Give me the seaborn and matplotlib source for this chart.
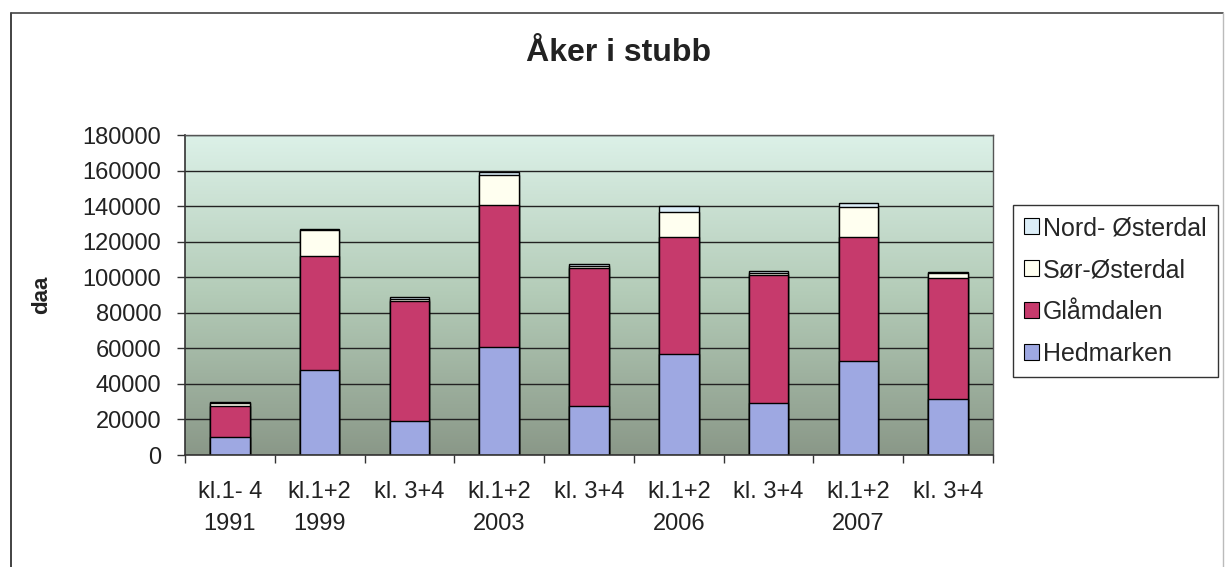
import numpy as np
import pandas as pd
import matplotlib
matplotlib.use("Agg")
import matplotlib.pyplot as plt
from matplotlib.colors import LinearSegmentedColormap
from matplotlib.lines import Line2D
from matplotlib.patches import Patch
import seaborn as sns

# categories (x) and series values (daa)
CATEGORIES = ["kl.1- 4\n1991", "kl.1+2\n1999", "kl. 3+4", "kl.1+2\n2003", "kl. 3+4",
              "kl.1+2\n2006", "kl. 3+4", "kl.1+2\n2007", "kl. 3+4"]
HEDMARKEN = [10000, 48000, 19300, 61000, 27700, 57000, 29000, 53000, 31300]
GLAMDALEN = [17700, 64000, 67300, 79600, 77300, 65400, 72200, 69800, 68100]
SOR_OSTERDAL = [1300, 14500, 1200, 17000, 1300, 14500, 1300, 16500, 2800]
NORD_OSTERDAL = [700, 500, 1200, 1500, 1100, 3100, 1000, 2300, 500]

SERIES = ["Hedmarken", "Glåmdalen", "Sør-Østerdal", "Nord- Østerdal"]
COLORS = {"Hedmarken": "#9ea8e2", "Glåmdalen": "#c63a6c",
          "Sør-Østerdal": "#fffff0", "Nord- Østerdal": "#dceef8"}

sns.set_theme(style="white")
plt.rcParams["font.family"] = ["Liberation Sans", "DejaVu Sans"]

keys = ["c%d" % i for i in range(len(CATEGORIES))]
df = pd.DataFrame({"key": keys, "Hedmarken": HEDMARKEN, "Glåmdalen": GLAMDALEN,
                   "Sør-Østerdal": SOR_OSTERDAL, "Nord- Østerdal": NORD_OSTERDAL})
# cumulative totals for stacking
cum = df[SERIES].cumsum(axis=1)

fig = plt.figure(figsize=(12.26, 5.67), dpi=100)
ax = fig.add_axes([185 / 1226, 1 - 455 / 567, (993 - 185) / 1226, (455 - 135) / 567])

# gradient plot area background
cmap = LinearSegmentedColormap.from_list("bg", ["#8a9888", "#b3cbb7", "#dcf1e8"])
grad = np.linspace(0, 1, 256).reshape(-1, 1)
ax.imshow(grad, extent=[-0.5, len(keys) - 0.5, 0, 180000], aspect="auto",
          origin="lower", cmap=cmap, zorder=0)

# draw from the top layer down so lower layers cover the upper totals
for name in reversed(SERIES):
    sns.barplot(x=df["key"], y=cum[name], order=keys, color=COLORS[name],
                saturation=1, width=0.44, edgecolor="black", linewidth=1.0,
                errorbar=None, ax=ax, zorder=2)

ax.set_xlim(-0.5, len(keys) - 0.5)
ax.set_ylim(0, 180000)
ax.set_yticks(np.arange(0, 180001, 20000))
ax.yaxis.grid(True, color="#222222", linewidth=1.0)
ax.set_axisbelow(True)
ax.grid(axis="x", visible=False)

ax.set_xticks(range(len(keys)))
ax.set_xticklabels(CATEGORIES, fontsize=17, linespacing=1.55, color="#222222")
ax.set_xticks(np.arange(-0.5, len(keys), 1), minor=True)
ax.tick_params(axis="x", which="major", length=0, pad=19)
ax.tick_params(axis="x", which="minor", length=6, width=1, color="#333333", direction="out", bottom=True)
ax.tick_params(axis="y", length=6, width=1, color="#333333", direction="out", left=True,
               pad=11, labelsize=17, labelcolor="#222222")
ax.set_xlabel("")
ax.set_ylabel("")

for side in ["left", "bottom"]:
    ax.spines[side].set_color("#333333")
    ax.spines[side].set_linewidth(1.2)
for side in ["top", "right"]:
    ax.spines[side].set_color("#555555")
    ax.spines[side].set_linewidth(1.0)

fig.text(619 / 1226, 1 - 53 / 567, "Åker i stubb", fontsize=23, fontweight="bold",
         ha="center", va="center", color="#222222")
fig.text(42 / 1226, 1 - 295 / 567, "daa", fontsize=16, fontweight="bold", rotation=90,
         ha="center", va="center", color="#222222")

handles = [Patch(facecolor=COLORS[n], edgecolor="black", linewidth=0.8, label=n)
           for n in reversed(SERIES)]
leg = fig.legend(handles=handles, loc="upper left", bbox_to_anchor=(1013 / 1226, 1 - 205 / 567),
                 bbox_transform=fig.transFigure, fontsize=18, frameon=True, fancybox=False,
                 edgecolor="black", handlelength=0.6, handleheight=0.6, handletextpad=0.15,
                 labelspacing=0.72, borderpad=0.45, borderaxespad=0)
leg.get_frame().set_linewidth(1.0)

# outer chart frame
fig.add_artist(Line2D([11 / 1226, 11 / 1226], [0, 1 - 13 / 567], transform=fig.transFigure,
                      color="#222222", linewidth=1.2))
fig.add_artist(Line2D([11 / 1226, 1223 / 1226], [1 - 13 / 567, 1 - 13 / 567],
                      transform=fig.transFigure, color="#444444", linewidth=1.2))
fig.add_artist(Line2D([1223 / 1226, 1223 / 1226], [0, 1 - 13 / 567], transform=fig.transFigure,
                      color="#bbbbbb", linewidth=1.0))

fig.savefig("out.png", dpi=100)
